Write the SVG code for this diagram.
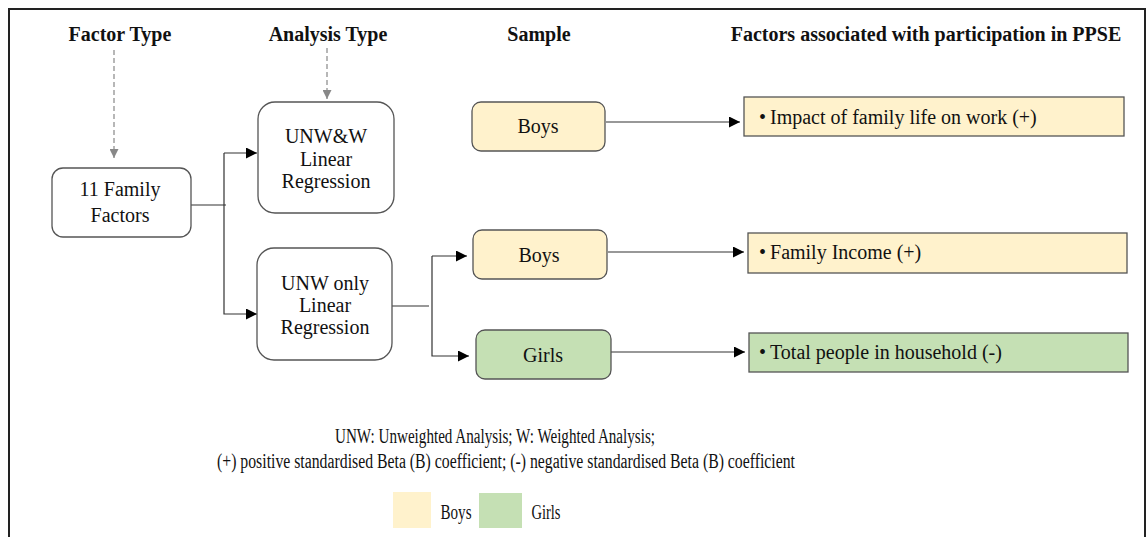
<svg xmlns="http://www.w3.org/2000/svg" width="1146" height="537" viewBox="0 0 1146 537" font-family="'Liberation Serif', 'Times New Roman', Times, serif">
  <style>
    text { font-family: 'Liberation Serif', 'Times New Roman', Times, serif; fill: #111; }
    .hdr { font-size: 20px; font-weight: bold; text-anchor: middle; }
    .lbl { font-size: 20px; text-anchor: middle; }
    .res { font-size: 20px; }
    .note { font-size: 20px; text-anchor: middle; }
    .box { fill: #fff; stroke: #555; stroke-width: 1.3; }
    .boys { fill: #FFF2CC; stroke: #555; stroke-width: 1.3; }
    .girls { fill: #C5E0B4; stroke: #555; stroke-width: 1.3; }
    .link { fill: none; stroke: #333; stroke-width: 1.2; }
    .dash { fill: none; stroke: #888; stroke-width: 1.2; stroke-dasharray: 5 3; }
    .frame { fill: none; stroke: #222; stroke-width: 2; }
  </style>
  <defs>
    <marker id="arr" viewBox="0 0 10 10" refX="10" refY="5" markerWidth="11" markerHeight="11" markerUnits="userSpaceOnUse" orient="auto">
      <path d="M0,0 L10,5 L0,10 Z" fill="#000"/>
    </marker>
    <marker id="arrGrey" viewBox="0 0 10 10" refX="10" refY="5" markerWidth="9" markerHeight="9" markerUnits="userSpaceOnUse" orient="auto">
      <path d="M0,0 L10,5 L0,10 Z" fill="#888"/>
    </marker>
  </defs>

  <rect width="1146" height="537" fill="#fff"/>
  <path class="frame" d="M9,537 V9 H1145 V537"/>

  <!-- column headings -->
  <g id="headings">
    <text class="hdr" x="120" y="41">Factor Type</text>
    <text class="hdr" x="328" y="41">Analysis Type</text>
    <text class="hdr" x="539" y="41">Sample</text>
    <text class="hdr" x="926" y="41">Factors associated with participation in PPSE</text>
  </g>

  <!-- connectors -->
  <g id="connectors">
    <line class="dash" x1="114" y1="50" x2="114" y2="158" marker-end="url(#arrGrey)"/>
    <line class="dash" x1="327" y1="48" x2="327" y2="99" marker-end="url(#arrGrey)"/>
    <path class="link" d="M191,205 H226"/>
    <path class="link" d="M224,153 V314 H257" marker-end="url(#arr)"/>
    <path class="link" d="M224,153 H257" marker-end="url(#arr)"/>
    <path class="link" d="M392,306 H429"/>
    <path class="link" d="M432,256 V356 H469" marker-end="url(#arr)"/>
    <path class="link" d="M432,256 H467" marker-end="url(#arr)"/>
    <path class="link" d="M606,122 H740" marker-end="url(#arr)"/>
    <path class="link" d="M608,252 H744" marker-end="url(#arr)"/>
    <path class="link" d="M611,352 H745" marker-end="url(#arr)"/>
  </g>

  <g id="family-factors">
    <rect class="box" x="52" y="168" width="139" height="69" rx="11"/>
    <text class="lbl" x="120" y="196">11 Family</text>
    <text class="lbl" x="120" y="222">Factors</text>
  </g>

  <g id="unw-w">
    <rect class="box" x="258" y="102" width="136" height="111" rx="17"/>
    <text class="lbl" x="326" y="143">UNW&amp;W</text>
    <text class="lbl" x="326" y="166">Linear</text>
    <text class="lbl" x="326" y="188">Regression</text>
  </g>

  <g id="unw-only">
    <rect class="box" x="257" y="248" width="135" height="112" rx="17"/>
    <text class="lbl" x="325" y="290">UNW only</text>
    <text class="lbl" x="325" y="312">Linear</text>
    <text class="lbl" x="325" y="334">Regression</text>
  </g>

  <g id="sample-boys-1">
    <rect class="boys" x="472" y="102" width="133" height="49" rx="9"/>
    <text class="lbl" x="538" y="133">Boys</text>
  </g>

  <g id="sample-boys-2">
    <rect class="boys" x="473" y="230" width="134" height="49" rx="9"/>
    <text class="lbl" x="539" y="262">Boys</text>
  </g>

  <g id="sample-girls">
    <rect class="girls" x="476" y="330" width="135" height="49" rx="9"/>
    <text class="lbl" x="543" y="362">Girls</text>
  </g>

  <g id="result-1">
    <rect class="boys" x="744" y="97" width="380" height="39"/>
    <text class="res" x="759" y="124">•&#8201;Impact of family life on work (+)</text>
  </g>

  <g id="result-2">
    <rect class="boys" x="748" y="233" width="379" height="40"/>
    <text class="res" x="759" y="259">•&#8201;Family Income (+)</text>
  </g>

  <g id="result-3">
    <rect class="girls" x="749" y="333" width="379" height="39"/>
    <text class="res" x="759" y="359">•&#8201;Total people in household (-)</text>
  </g>

  <!-- abbreviations and legend -->
  <g id="notes">
    <text class="note" x="495" y="443" textLength="320" lengthAdjust="spacingAndGlyphs">UNW: Unweighted Analysis; W: Weighted Analysis;</text>
    <text class="note" x="506" y="468" textLength="578" lengthAdjust="spacingAndGlyphs">(+) positive standardised Beta (B) coefficient; (-) negative standardised Beta (B) coefficient</text>
  </g>

  <g id="legend">
    <rect x="393" y="492" width="38" height="36" fill="#FFF2CC"/>
    <text class="note" x="456" y="519" textLength="31" lengthAdjust="spacingAndGlyphs">Boys</text>
    <rect x="479" y="493" width="43" height="35" fill="#C5E0B4"/>
    <text class="note" x="546" y="519" textLength="29" lengthAdjust="spacingAndGlyphs">Girls</text>
  </g>
</svg>
